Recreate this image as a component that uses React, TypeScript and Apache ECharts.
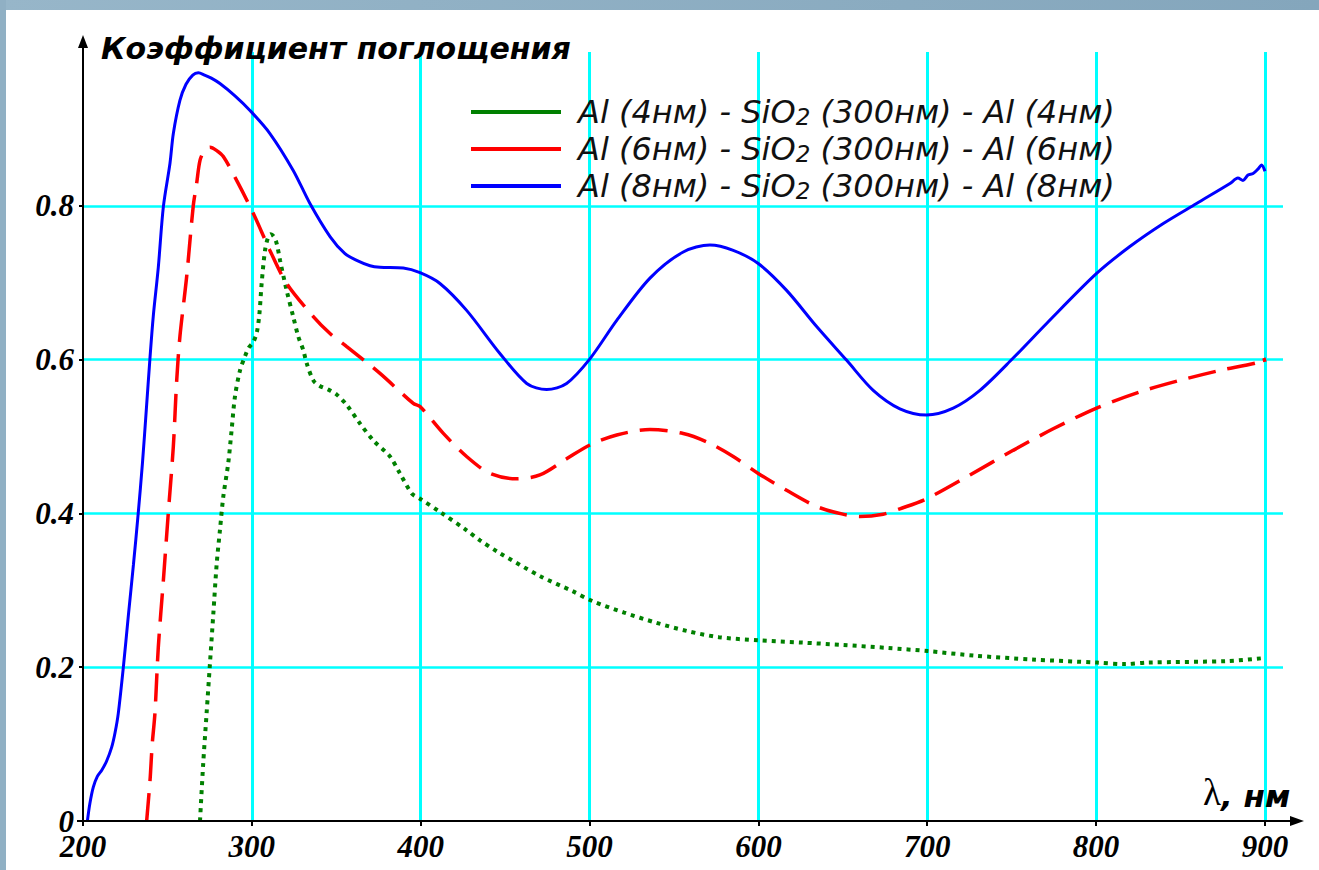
import { useEffect, useRef } from "react";
import * as echarts from "echarts";

// Absorption spectra of Al / SiO2 / Al three-layer structures
const seriesNames = [
  "Al (4нм) - SiO2 (300нм) - Al (4нм)",
  "Al (6нм) - SiO2 (300нм) - Al (6нм)",
  "Al (8нм) - SiO2 (300нм) - Al (8нм)",
];
const seriesColors = ["#008000", "#ff0000", "#0000ff"];
const xTickValues = [200, 300, 400, 500, 600, 700, 800, 900];
const yTickValues = [0, 0.2, 0.4, 0.6, 0.8];
const titleText = "Коэффициент поглощения";

// Al 4 nm
const wl4 = [
  269.3, 271.2, 273.2, 275.2, 277.2, 279.2, 281.1, 283.1, 286, 288, 290, 293, 295.9, 298, 300.9, 303,
  304.5, 305.8, 307.8, 309.5, 311.2, 313, 314.7, 316.7, 320.6, 324.5, 327.5, 330.5, 332.5, 336.4, 340,
  345.3, 350, 356.2, 364, 371.9, 381.8, 387.7, 394.7, 399.6, 411.4, 427.2, 435.1, 446.3, 471.1, 489.8,
  501.7, 520.5, 539.2, 557.9, 576.6, 599.8, 626, 649.8, 677.1, 700.2, 728.2, 762.2, 800.4, 816.9, 830.6,
  878.2, 900,
];
const abs4 = [
  0, 0.075, 0.14, 0.205, 0.27, 0.335, 0.378, 0.422, 0.465, 0.508, 0.552, 0.586, 0.604, 0.615, 0.623, 0.636,
  0.66, 0.699, 0.742, 0.758, 0.763, 0.76, 0.751, 0.729, 0.69, 0.656, 0.63, 0.612, 0.595, 0.573, 0.566,
  0.561, 0.555, 0.541, 0.517, 0.495, 0.474, 0.452, 0.426, 0.419, 0.402, 0.378, 0.365, 0.349, 0.318, 0.299,
  0.286, 0.271, 0.258, 0.247, 0.239, 0.235, 0.232, 0.229, 0.225, 0.221, 0.215, 0.21, 0.206, 0.204, 0.206,
  0.208, 0.212,
];

// Al 6 nm
const wl6 = [
  237.7, 239.7, 241, 242.6, 244.6, 247.6, 250.5, 253.5, 255.5, 257.4, 261.4, 265.3, 267.3, 269.3, 272,
  275.2, 279, 283.1, 291, 300.9, 310.7, 320.6, 336.4, 346.3, 356.2, 375.9, 395.6, 399.6, 413.4, 427.2, 441,
  456.8, 470.6, 486.4, 500.2, 516.1, 535.8, 555.5, 569.4, 585.1, 599.9, 616.7, 634.5, 650, 660.1, 673.9,
  683.8, 699.6, 725.3, 750.9, 774.6, 800.3, 825.9, 849.6, 873.3, 897, 899, 900,
];
const abs6 = [
  0, 0.053, 0.1, 0.14, 0.226, 0.313, 0.4, 0.487, 0.573, 0.63, 0.708, 0.8, 0.829, 0.859, 0.872,
  0.876, 0.872, 0.864, 0.833, 0.79, 0.742, 0.699, 0.656, 0.634, 0.617, 0.582, 0.543, 0.539, 0.504, 0.474, 0.452,
  0.445, 0.45, 0.471, 0.489, 0.502, 0.509, 0.504, 0.493, 0.474, 0.452, 0.43, 0.409, 0.399, 0.396, 0.399,
  0.406, 0.419, 0.45, 0.482, 0.51, 0.537, 0.558, 0.573, 0.586, 0.597, 0.603, 0.597,
];

// Al 8 nm
const wl8 = [
  202.6, 204.1, 206.1, 208.5, 211.1, 214, 217, 219, 220.9, 223.9, 226.9, 229.9, 232.7, 235.2, 237.5, 239.6,
  241.6, 244.6, 247.6, 251.5, 253.5, 257.4, 261, 265, 268.3, 272, 276, 281.1, 290, 298.9, 310.7, 324.5,
  334.4, 346.3, 355, 362.1, 370, 375.9, 389.7, 399.6, 411.4, 427.2, 446.9, 462.8, 474.6, 486.4, 500.2,
  516.1, 535.8, 555.5, 571.3, 585.1, 599.9, 616.7, 634.5, 652.3, 668, 683.8, 699.6, 715.4, 731.2, 750.9,
  770.7, 800.3, 820, 839.8, 859.5, 879.3, 884, 887, 890, 893, 896, 898, 900,
];
const abs8 = [
  0, 0.023, 0.044, 0.058, 0.066, 0.078, 0.096, 0.115, 0.14, 0.2, 0.268, 0.334, 0.4, 0.465, 0.535, 0.6,
  0.656, 0.72, 0.799, 0.855, 0.894, 0.937, 0.958, 0.97, 0.973, 0.97, 0.966, 0.959, 0.943, 0.924, 0.894, 0.846,
  0.803, 0.76, 0.738, 0.729, 0.722, 0.72, 0.719, 0.713, 0.699, 0.664, 0.608, 0.569, 0.561, 0.569, 0.601,
  0.651, 0.706, 0.74, 0.749, 0.742, 0.725, 0.69, 0.643, 0.599, 0.56, 0.536, 0.528, 0.537, 0.56, 0.602,
  0.647, 0.712, 0.747, 0.777, 0.803, 0.829, 0.836, 0.833, 0.84, 0.842, 0.848, 0.853, 0.845,
];

const wavelengths = [wl4, wl6, wl8];
const absorbance = [abs4, abs6, abs8];
const lineTypes: any[] = [[4, 5], [28, 12], "solid"];
const lineWidths = [4, 3.5, 3];

// Plot area layout (pixels)
const GRID_LEFT = 83;
const GRID_TOP = 52;
const GRID_WIDTH = 1200;
const GRID_HEIGHT = 769;
const X_MAX = 910.7;
const Y_MAX = 1.0;

const sansFont = "'DejaVu Sans', Verdana, sans-serif";
const serifLabel = {
  fontFamily: "'Liberation Serif', 'Times New Roman', serif",
  fontWeight: "bold" as const,
  fontStyle: "italic" as const,
  fontSize: 31,
  color: "#000",
};

export default function App() {
  const ref = useRef<HTMLDivElement>(null);

  useEffect(() => {
    document.body.style.margin = "0";
    if (!ref.current) return;
    const chart = echarts.init(ref.current, null, { renderer: "svg" });

    const axisBottom = GRID_TOP + GRID_HEIGHT;
    const series = seriesNames.map((name, i) => ({
      name,
      type: "line",
      data: wavelengths[i].map((w, k) => [w, absorbance[i][k]]),
      showSymbol: false,
      smooth: 0.3,
      itemStyle: { color: seriesColors[i] },
      lineStyle: { color: seriesColors[i], width: lineWidths[i], type: lineTypes[i], cap: "butt" },
      z: 3 + i,
    }));

    chart.setOption({
      animation: false,
      backgroundColor: "#ffffff",
      title: {
        text: titleText,
        left: 101,
        top: 33,
        padding: 0,
        textStyle: {
          fontFamily: sansFont,
          fontWeight: "bold",
          fontStyle: "italic",
          fontSize: 30,
          color: "#000",
        },
      },
      legend: {
        data: seriesNames,
        orient: "vertical",
        left: 471,
        top: 96,
        padding: 0,
        itemGap: 5,
        itemWidth: 90,
        itemHeight: 4,
        icon: "rect",
        formatter: (n: string) => n.replace("SiO2", "SiO{sub|2}"),
        textStyle: {
          fontFamily: sansFont,
          fontStyle: "italic",
          fontSize: 32,
          lineHeight: 32,
          color: "#111",
          padding: [0, 0, 0, 12],
          rich: {
            sub: {
              fontFamily: sansFont,
              fontStyle: "italic",
              fontSize: 23,
              lineHeight: 22,
              verticalAlign: "bottom",
              color: "#111",
            },
          },
        },
      },
      grid: { left: GRID_LEFT, top: GRID_TOP, width: GRID_WIDTH, height: GRID_HEIGHT, containLabel: false },
      xAxis: {
        type: "value",
        min: 200,
        max: X_MAX,
        interval: 100,
        axisLine: { show: false },
        axisTick: { show: true, length: 5, lineStyle: { color: "#000", width: 2 }, customValues: xTickValues },
        axisLabel: {
          ...serifLabel,
          lineHeight: 24,
          margin: 13,
          customValues: xTickValues,
          formatter: (v: number) => (xTickValues.includes(v) ? String(v) : ""),
        },
        splitLine: { show: true, showMinLine: false, lineStyle: { color: "#00ffff", width: 3 } },
      },
      yAxis: {
        type: "value",
        min: 0,
        max: Y_MAX,
        interval: 0.2,
        axisLine: { show: false },
        axisTick: { show: true, length: 4, lineStyle: { color: "#000", width: 2 } },
        axisLabel: {
          ...serifLabel,
          lineHeight: 18,
          margin: 9,
          showMaxLabel: false,
          formatter: (v: number) => {
            const t = yTickValues.find((y) => Math.abs(y - v) < 1e-6);
            if (t === undefined) return "";
            return t === 0 ? "0" : t.toFixed(1);
          },
        },
        splitLine: { show: true, showMinLine: false, showMaxLine: false, lineStyle: { color: "#00ffff", width: 2.5 } },
      },
      graphic: [
        // window frame
        {
          type: "rect",
          shape: { x: 0, y: 0, width: 1319, height: 10 },
          style: {
            fill: new echarts.graphic.LinearGradient(0, 0, 1, 0, [
              { offset: 0, color: "#97b6c9" },
              { offset: 1, color: "#84a6bc" },
            ]),
          },
          silent: true,
          z: 20,
        },
        {
          type: "rect",
          shape: { x: 0, y: 0, width: 6, height: 870 },
          style: { fill: "#90b0c4" },
          silent: true,
          z: 20,
        },
        // y axis with arrow
        {
          type: "line",
          shape: { x1: GRID_LEFT, y1: axisBottom + 5, x2: GRID_LEFT, y2: 44 },
          style: { stroke: "#000", lineWidth: 2 },
          z: 10,
        },
        {
          type: "polygon",
          shape: { points: [[GRID_LEFT, 35], [GRID_LEFT - 5, 48], [GRID_LEFT + 5, 48]] },
          style: { fill: "#000" },
          z: 10,
        },
        // x axis with arrow
        {
          type: "line",
          shape: { x1: GRID_LEFT - 6, y1: axisBottom, x2: 1294, y2: axisBottom },
          style: { stroke: "#000", lineWidth: 2 },
          z: 10,
        },
        {
          type: "polygon",
          shape: { points: [[1304, axisBottom], [1290, axisBottom - 5], [1290, axisBottom + 5]] },
          style: { fill: "#000" },
          z: 10,
        },
        // x axis name
        {
          type: "text",
          x: 1203,
          y: 775,
          style: {
            text: "{l|λ}{u|, нм}",
            rich: {
              l: {
                fontFamily: "'Liberation Serif', 'Times New Roman', serif",
                fontSize: 37,
                lineHeight: 36,
                verticalAlign: "bottom",
                fill: "#000",
              },
              u: {
                fontFamily: sansFont,
                fontWeight: "bold",
                fontStyle: "italic",
                fontSize: 31,
                lineHeight: 29,
                verticalAlign: "bottom",
                fill: "#000",
              },
            },
          },
          z: 10,
        },
      ],
      series,
    });

    return () => chart.dispose();
  }, []);

  return <div ref={ref} style={{ width: 1319, height: 870 }} />;
}
